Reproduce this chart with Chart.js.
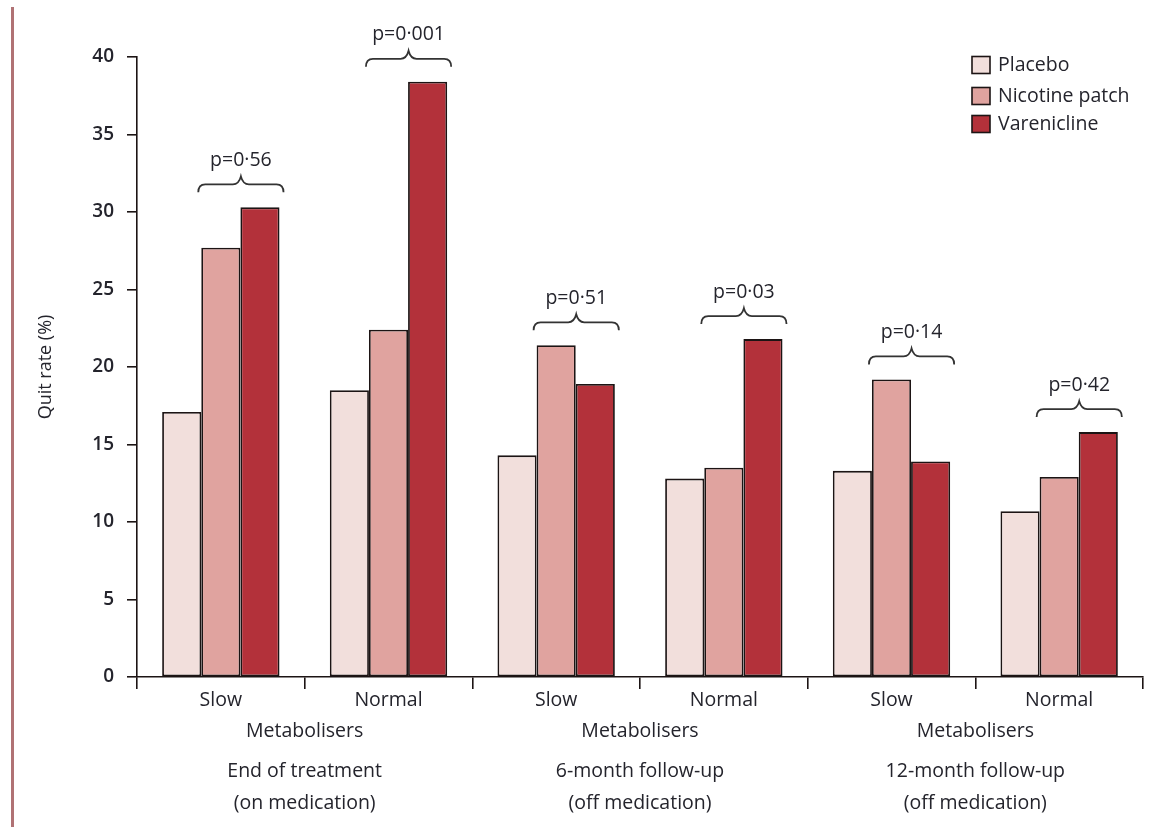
<!DOCTYPE html>
<html>
<head>
<meta charset="utf-8">
<script src="https://cdn.jsdelivr.net/npm/chart.js@4.4.1/dist/chart.umd.min.js"></script>
<style>
  html, body { margin: 0; padding: 0; background: #ffffff; }
  #wrap { position: relative; width: 1152px; height: 827px; }
  #edge { position: absolute; left: 11px; top: 7px; width: 3px; height: 820px; background: #b07274; }
  canvas { position: absolute; left: 0; top: 0; }
</style>
</head>
<body>
<div id="wrap">
  <div id="edge"></div>
  <canvas id="chart" width="1152" height="827"></canvas>
</div>
<script>
// Quit rates (%) by metaboliser group and time point
const categories = ['Slow', 'Normal', 'Slow', 'Normal', 'Slow', 'Normal'];
const placebo = [17.1, 18.5, 14.3, 12.8, 13.3, 10.7];
const nicotinePatch = [27.7, 22.4, 21.4, 13.5, 19.2, 12.9];
const varenicline = [30.3, 38.4, 18.9, 21.8, 13.9, 15.8];
const pValues = ['p=0·56', 'p=0·001', 'p=0·51', 'p=0·03', 'p=0·14', 'p=0·42'];
const groupLabel = 'Metabolisers';
const periods = [
  ['End of treatment', '(on medication)'],
  ['6-month follow-up', '(off medication)'],
  ['12-month follow-up', '(off medication)']
];
const seriesNames = ['Placebo', 'Nicotine patch', 'Varenicline'];
const yTicks = [0, 5, 10, 15, 20, 25, 30, 35, 40];

const FONT = '"Open Sans", "DejaVu Sans", sans-serif';
const TEXT = '#24242c';
const INK = '#1c1414';

// p-value braces over the nicotine patch / varenicline pair, plus group captions and legend
const annotations = {
  id: 'annotations',
  afterDraw(chart) {
    const ctx = chart.ctx;
    const x = chart.scales.x;
    const y = chart.scales.y;
    const nic = chart.getDatasetMeta(1).data;
    const vare = chart.getDatasetMeta(2).data;
    ctx.save();

    // braces with p values
    ctx.strokeStyle = '#333333';
    ctx.lineWidth = 1.8;
    ctx.fillStyle = TEXT;
    ctx.font = '500 19.5px ' + FONT;
    ctx.textAlign = 'center';
    ctx.textBaseline = 'middle';
    for (let i = 0; i < categories.length; i++) {
      const l = nic[i].x - nic[i].width / 2 - 3;
      const r = vare[i].x + vare[i].width / 2 + 4;
      const top = Math.max(nicotinePatch[i], varenicline[i]);
      const y0 = y.getPixelForValue(top) - 15;
      const m = (l + r) / 2;
      const yl = y0 - 8;
      const yc = y0 - 16;
      ctx.beginPath();
      ctx.moveTo(l, y0);
      ctx.quadraticCurveTo(l, yl, l + 7, yl);
      ctx.lineTo(m - 8, yl);
      ctx.quadraticCurveTo(m - 2, yl, m, yc);
      ctx.quadraticCurveTo(m + 2, yl, m + 8, yl);
      ctx.lineTo(r - 7, yl);
      ctx.quadraticCurveTo(r, yl, r, y0);
      ctx.stroke();
      ctx.fillText(pValues[i], m, y0 - 32);
    }

    // group captions under each Slow/Normal pair
    for (let g = 0; g < periods.length; g++) {
      const cx = (x.getPixelForValue(2 * g) + x.getPixelForValue(2 * g + 1)) / 2;
      ctx.fillText(groupLabel, cx, 731);
      ctx.fillText(periods[g][0], cx, 771);
      ctx.fillText(periods[g][1], cx, 803);
    }

    // y-axis title
    ctx.save();
    ctx.translate(46, (y.top + y.bottom) / 2);
    ctx.rotate(-Math.PI / 2);
    ctx.font = '500 18px ' + FONT;
    ctx.fillText('Quit rate (%)', 0, 0);
    ctx.restore();

    // legend
    ctx.textAlign = 'left';
    ctx.font = '500 19.5px ' + FONT;
    const rows = [65, 96, 124];
    chart.data.datasets.forEach((ds, k) => {
      ctx.fillStyle = ds.backgroundColor;
      ctx.fillRect(972, rows[k] - 8.5, 18, 17);
      ctx.strokeStyle = INK;
      ctx.lineWidth = 1.6;
      ctx.strokeRect(972, rows[k] - 8.5, 18, 17);
      ctx.fillStyle = TEXT;
      ctx.fillText(ds.label, 998, rows[k]);
    });
    ctx.restore();
  }
};

new Chart(document.getElementById('chart'), {
  type: 'bar',
  data: {
    labels: categories,
    datasets: [
      { label: seriesNames[0], data: placebo, backgroundColor: '#f2dfdc' },
      { label: seriesNames[1], data: nicotinePatch, backgroundColor: '#e0a39f' },
      { label: seriesNames[2], data: varenicline, backgroundColor: '#b3313a' }
    ].map(d => Object.assign(d, {
      borderColor: INK,
      borderWidth: 1.8,
      borderSkipped: false,
      barPercentage: 1.0,
      categoryPercentage: 0.70
    }))
  },
  options: {
    responsive: false,
    animation: false,
    layout: { padding: { left: 0, top: 57, right: 9, bottom: 0 } },
    plugins: { legend: { display: false }, tooltip: { enabled: false } },
    scales: {
      x: {
        afterFit(s) { s.height = 150; },
        grid: {
          offset: true,
          drawOnChartArea: false,
          drawTicks: true,
          tickLength: 12,
          color: INK,
          lineWidth: 1.6
        },
        border: { display: true, color: INK, width: 1.6 },
        ticks: { color: TEXT, font: { family: FONT, size: 19.5, weight: '500' }, padding: 0 }
      },
      y: {
        min: 0,
        max: 40,
        afterFit(s) { s.width = 137; },
        afterBuildTicks(s) { s.ticks = yTicks.map(v => ({ value: v })); },
        grid: {
          drawOnChartArea: false,
          drawTicks: true,
          tickLength: 10,
          color: INK,
          lineWidth: 1.6
        },
        border: { display: true, color: INK, width: 1.6 },
        ticks: { color: TEXT, font: { family: FONT, size: 19, weight: '600' }, padding: 13 }
      }
    }
  },
  plugins: [annotations]
});
</script>
</body>
</html>
